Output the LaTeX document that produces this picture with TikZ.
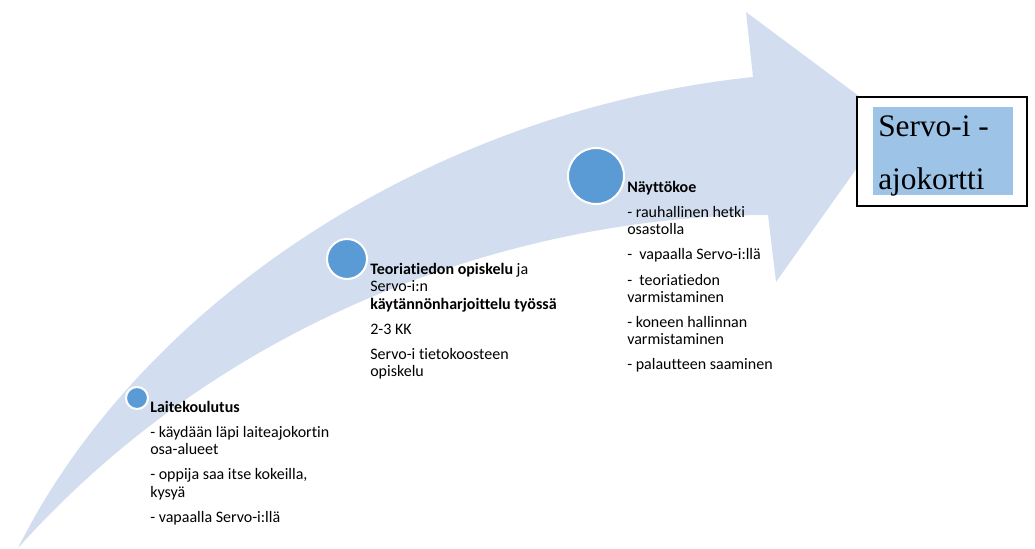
\documentclass[tikz,border=0pt]{standalone}
\usepackage{fontspec}
\setmainfont{Carlito}[Ligatures=NoCommon]
\newfontfamily\timesfont{Liberation Serif}
\usetikzlibrary{positioning}
\definecolor{arrowblue}{RGB}{210,222,239}
\definecolor{dotblue}{RGB}{91,155,213}
\definecolor{markblue}{RGB}{157,195,230}

\begin{document}
\begin{tikzpicture}[
        x=0.75pt, y=-0.75pt,
        stage/.style={circle, fill=dotblue, draw=white, line width=1.5pt, inner sep=0pt},
        note/.style={anchor=north west, inner sep=0pt, align=left, font=\fontsize{12}{13}\selectfont},
        kortti/.style={rectangle, draw=black, fill=white, line width=0.8pt, minimum width=127.5pt, minimum height=81.75pt, inner sep=0pt},
        hlbox/.style={rectangle, fill=markblue, minimum width=105pt, minimum height=66pt, inner sep=0pt},
        servo/.style={anchor=base west, inner sep=0pt, font=\timesfont\fontsize{23.5}{28}\selectfont}
    ]
        \useasboundingbox (0,0) rectangle (1035,549);

        % the big curved arrow
        \fill[arrowblue] (18,548) .. controls (138,308) and (423,112) .. (753,77)
            -- (746,12) -- (891,120) -- (776,282) -- (768,215)
            .. controls (560,215) and (250,290) .. cycle;

        \node[stage, minimum size=16.5pt] (laite) at (137,398) {};
        \node[stage, minimum size=30pt] (teoria) at (347,259) {};
        \node[stage, minimum size=42pt] (naytto) at (596,176) {};

        \node[note] (laiteteksti) at (150,401) {\textbf{Laitekoulutus}\\[5.8pt]
            - käydään läpi laiteajokortin\\osa-alueet\\[5.8pt]
            - oppija saa itse kokeilla,\\kysyä\\[5.8pt]
            - vapaalla Servo-i:llä};
        \node[note] (teoriateksti) at (370,263) {\textbf{Teoriatiedon opiskelu} ja\\Servo-i:n\\
            \textbf{käytännönharjoittelu työssä}\\[5.8pt]
            2-3 KK\\[5.8pt]
            Servo-i tietokoosteen\\opiskelu};
        \node[note] (nayttoteksti) at (627,181) {\textbf{Näyttökoe}\\[5.8pt]
            - rauhallinen hetki\\osastolla\\[5.8pt]
            - \ vapaalla Servo-i:llä\\[5.8pt]
            - \ teoriatiedon\\varmistaminen\\[5.8pt]
            - koneen hallinnan\\varmistaminen\\[5.8pt]
            - palautteen saaminen};

        \node[kortti] (ajokortti) at (942,151.5) {};
        \node[hlbox] (korostus) at (943,151) {};
        \node[servo] (servo1) at (878,137) {Servo-i -};
        \node[servo] (servo2) at (878,190) {ajokortti};
    \end{tikzpicture}
\end{document}
